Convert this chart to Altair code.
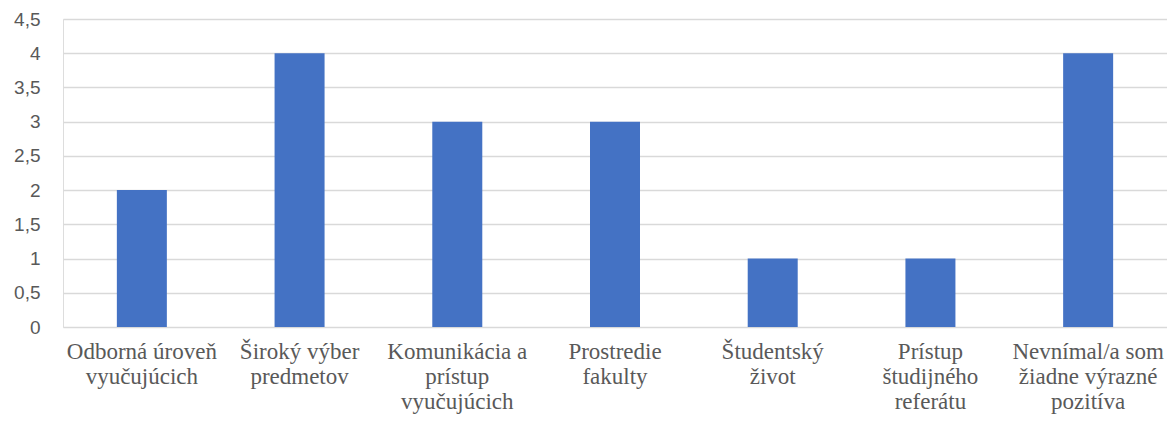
import altair as alt
import pandas as pd

categories = [
    "Odborná úroveň|vyučujúcich",
    "Široký výber|predmetov",
    "Komunikácia a|prístup|vyučujúcich",
    "Prostredie|fakulty",
    "Študentský|život",
    "Prístup|študijného|referátu",
    "Nevnímal/a som|žiadne výrazné|pozitíva",
]
values = [2, 4, 3, 3, 1, 1, 4]
y_ticks = [0, 0.5, 1, 1.5, 2, 2.5, 3, 3.5, 4, 4.5]

df = pd.DataFrame({"kategoria": categories, "pocet": values})

chart = (
    alt.Chart(df)
    .mark_bar(size=50, color="#4472C4")
    .encode(
        x=alt.X(
            "kategoria:N",
            sort=None,
            title=None,
            scale=alt.Scale(paddingInner=0, paddingOuter=0),
            axis=alt.Axis(
                labelAngle=0,
                labelAlign="center",
                labelBaseline="top",
                labelExpr="split(datum.label, '|')",
                labelFont="Liberation Serif",
                labelFontSize=23,
                labelLineHeight=25,
                labelColor="#595959",
                labelPadding=13,
                labelLimit=0,
                labelOverlap=False,
                ticks=False,
                domain=False,
                grid=False,
            ),
        ),
        y=alt.Y(
            "pocet:Q",
            title=None,
            scale=alt.Scale(domain=[0, 4.5], nice=False),
            axis=alt.Axis(
                values=y_ticks,
                labelExpr="replace(format(datum.value, '.1~f'), '.', ',')",
                labelFont="Liberation Sans",
                labelFontSize=19,
                labelColor="#595959",
                labelPadding=23,
                ticks=False,
                domain=False,
                grid=True,
                gridColor="#D9D9D9",
                gridWidth=1.3,
            ),
        ),
    )
    .properties(
        width=1104,
        height=308,
        autosize=alt.AutoSizeParams(type="none"),
        padding={"left": 55, "top": 11, "right": 0, "bottom": 88},
    )
    .configure_view(stroke=None)
    .configure(background="white")
)

chart.save("out.html", embed_options={"renderer": "svg", "actions": False})
